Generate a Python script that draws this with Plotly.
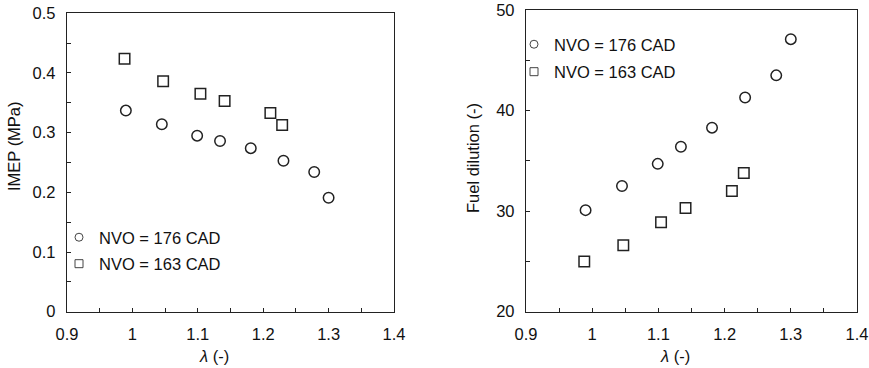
import plotly.graph_objects as go

# ---- data ----
lam_176 = [0.990, 1.045, 1.099, 1.134, 1.181, 1.231, 1.278, 1.300]
imep_176 = [0.337, 0.314, 0.295, 0.286, 0.274, 0.253, 0.234, 0.191]
dil_176 = [30.1, 32.5, 34.7, 36.4, 38.3, 41.3, 43.5, 47.1]

lam_163 = [0.988, 1.047, 1.104, 1.141, 1.211, 1.229]
imep_163 = [0.424, 0.386, 0.365, 0.353, 0.333, 0.313]
dil_163 = [25.0, 26.6, 28.9, 30.3, 32.0, 33.8]

name_176 = "NVO = 176 CAD"
name_163 = "NVO = 163 CAD"
x_ticks = [0.9, 1.0, 1.1, 1.2, 1.3, 1.4]
x_ticklabels = ["0.9", "1", "1.1", "1.2", "1.3", "1.4"]

W, H = 869, 368
FONT = "Liberation Sans, Arial, sans-serif"
FS = 16.5
INK = "#111111"

def px_x(p):
    return p / W

def px_y(p):
    return (H - p) / H

fig = go.Figure()

data_marker = dict(size=10.5, color="white", line=dict(color="#222222", width=1.5))
leg_marker = dict(size=8, color="white", line=dict(color="#444444", width=1))

# data traces
fig.add_trace(go.Scatter(x=lam_176, y=imep_176, mode="markers", showlegend=False,
                         marker=dict(symbol="circle", **data_marker), xaxis="x", yaxis="y"))
fig.add_trace(go.Scatter(x=lam_163, y=imep_163, mode="markers", showlegend=False,
                         marker=dict(symbol="square", **data_marker), xaxis="x", yaxis="y"))
fig.add_trace(go.Scatter(x=lam_176, y=dil_176, mode="markers", showlegend=False,
                         marker=dict(symbol="circle", **data_marker), xaxis="x2", yaxis="y2"))
fig.add_trace(go.Scatter(x=lam_163, y=dil_163, mode="markers", showlegend=False,
                         marker=dict(symbol="square", **data_marker), xaxis="x2", yaxis="y2"))

# legend entries
for leg, xa, ya in [("legend", "x", "y"), ("legend2", "x2", "y2")]:
    fig.add_trace(go.Scatter(x=[None], y=[None], mode="markers", name=name_176,
                             legend=leg, legendgroup=leg + "a",
                             marker=dict(symbol="circle", **leg_marker), xaxis=xa, yaxis=ya))
    fig.add_trace(go.Scatter(x=[None], y=[None], mode="markers", name=name_163,
                             legend=leg, legendgroup=leg + "b",
                             marker=dict(symbol="square", **leg_marker), xaxis=xa, yaxis=ya))

axis_common = dict(
    showline=True, linecolor="#222222", linewidth=1.3, mirror=True,
    showgrid=False, zeroline=False,
    ticks="inside", ticklen=4, tickwidth=1, tickcolor="#222222",
    tickfont=dict(family=FONT, size=FS, color=INK),
    ticklabelstandoff=7,
    automargin=False,
)

xaxis_common = dict(axis_common, range=[0.9, 1.4], tickmode="array",
                    tickvals=x_ticks, ticktext=x_ticklabels,
                    minor=dict(dtick=0.05, tick0=0.9, ticks="inside", ticklen=4,
                               tickwidth=1, tickcolor="#222222", showgrid=False))

legend_common = dict(font=dict(family=FONT, size=FS, color=INK), bgcolor="rgba(0,0,0,0)",
                     borderwidth=0, xanchor="left", yanchor="top",
                     traceorder="grouped")

fig.update_layout(
    width=W, height=H,
    margin=dict(l=0, r=0, t=0, b=0),
    paper_bgcolor="white", plot_bgcolor="white",
    font=dict(family=FONT, size=FS, color=INK),
    xaxis=dict(xaxis_common, domain=[px_x(67), px_x(394)], anchor="y"),
    yaxis=dict(axis_common, domain=[px_y(311.7), px_y(13.3)], anchor="x",
               range=[0, 0.5], dtick=0.1, tick0=0, tickformat=".1~f",
               minor=dict(dtick=0.05, ticks="inside", ticklen=4, tickwidth=1,
                          tickcolor="#222222", showgrid=False)),
    xaxis2=dict(xaxis_common, domain=[px_x(526), px_x(857)], anchor="y2"),
    yaxis2=dict(axis_common, domain=[px_y(311.7), px_y(10)], anchor="x2",
                range=[20, 50], dtick=10, tick0=20,
                minor=dict(dtick=5, ticks="inside", ticklen=4, tickwidth=1,
                           tickcolor="#222222", showgrid=False)),
    legend=dict(legend_common, x=px_x(59), y=px_y(220), tracegroupgap=2),
    legend2=dict(legend_common, x=px_x(514), y=px_y(27), tracegroupgap=3),
    annotations=[
        dict(text="IMEP (MPa)", x=px_x(14), y=px_y(146), xref="paper", yref="paper",
             xanchor="center", yanchor="middle",
             textangle=-90, showarrow=False, font=dict(family=FONT, size=FS, color=INK)),
        dict(text="Fuel dilution (-)", x=px_x(473), y=px_y(158), xref="paper", yref="paper",
             xanchor="center", yanchor="middle",
             textangle=-90, showarrow=False, font=dict(family=FONT, size=FS, color=INK)),
        dict(text="<i>λ</i> (-)", x=px_x(214), y=px_y(356), xref="paper", yref="paper",
             xanchor="center", yanchor="middle",
             showarrow=False, font=dict(family=FONT, size=FS, color=INK)),
        dict(text="<i>λ</i> (-)", x=px_x(675), y=px_y(356), xref="paper", yref="paper",
             xanchor="center", yanchor="middle",
             showarrow=False, font=dict(family=FONT, size=FS, color=INK)),
    ],
)

fig.write_html("out.html")
